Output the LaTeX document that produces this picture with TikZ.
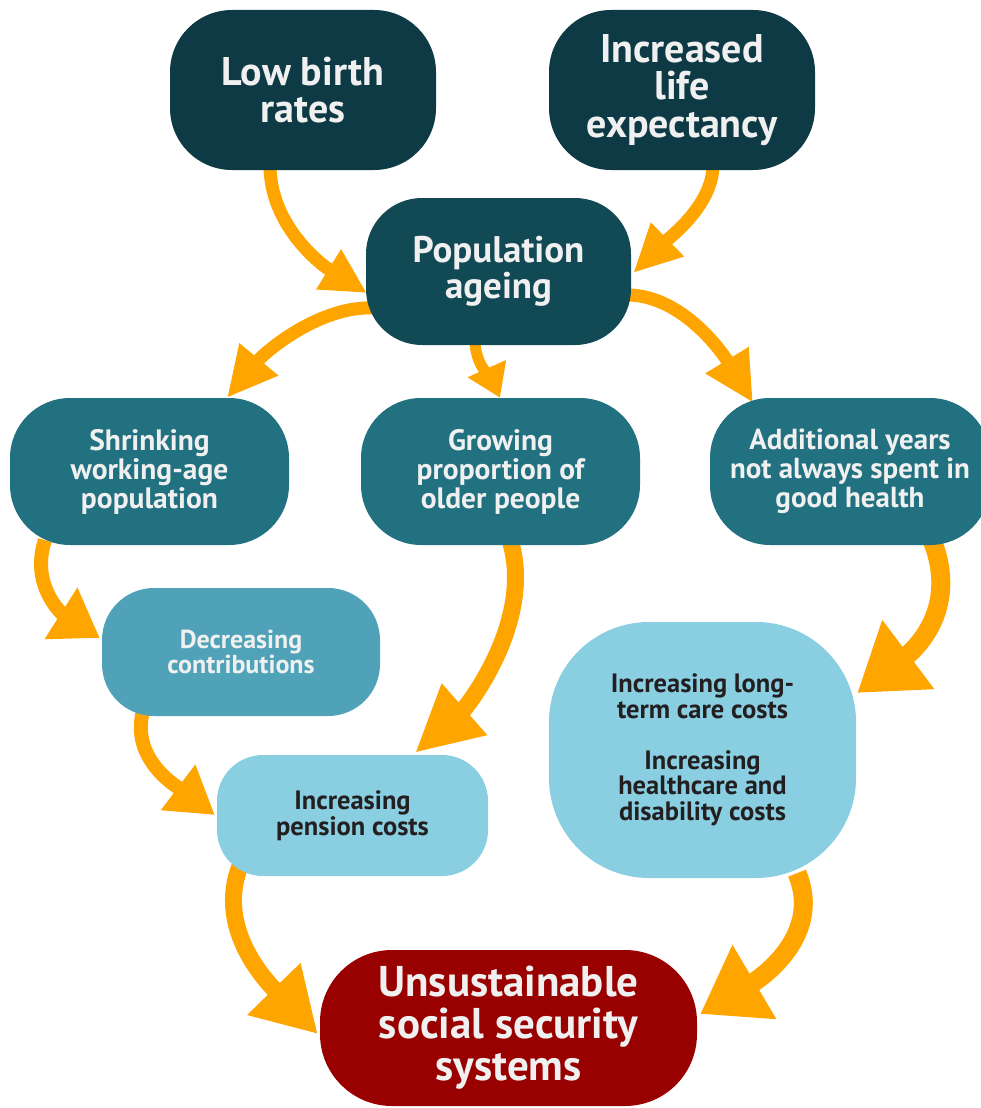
\documentclass[tikz,border=0pt]{standalone}
\usepackage{fontspec}
\setmainfont{PT Sans}
\usetikzlibrary{arrows.meta}
\pgfdeclarelayer{bg}
\pgfsetlayers{bg,main}
\definecolor{topcol}{HTML}{0D3A44}
\definecolor{pacol}{HTML}{114955}
\definecolor{midcol}{HTML}{217180}
\definecolor{deccol}{HTML}{4FA2B7}
\definecolor{lightcol}{HTML}{89CFE1}
\definecolor{redcol}{HTML}{990000}
\definecolor{orng}{HTML}{FFA500}
\definecolor{wtext}{HTML}{F0F0F0}
\definecolor{dtext}{HTML}{231F20}
\begin{document}
\begin{tikzpicture}[x=1pt,y=-1pt,
  box/.style={inner sep=0pt, align=center, font=\bfseries},
  ar/.style n args={3}{draw=orng, line width=#1, -{Triangle[width=#2,length=#3]}}]
\useasboundingbox (0,0) rectangle (980,1108);
% nodes
\node[box, fill=topcol, text=wtext, minimum width=266pt, minimum height=160pt, rounded corners=62pt,
  font=\bfseries\fontsize{40}{37.5}\selectfont] (lbr) at (303,90) {Low birth\\rates};
\node[box, fill=topcol, text=wtext, minimum width=266pt, minimum height=160pt, rounded corners=62pt,
  font=\bfseries\fontsize{40}{37.5}\selectfont] (ile) at (682,90) {Increased\\life\\expectancy};
\node[box, fill=pacol, text=wtext, minimum width=265pt, minimum height=147pt, rounded corners=56pt,
  font=\bfseries\fontsize{37}{36}\selectfont] (pa) at (498.5,271.5) {Population\\ageing};
\node[box, fill=midcol, text=wtext, minimum width=279pt, minimum height=147pt, rounded corners=60pt,
  font=\bfseries\fontsize{29.5}{29}\selectfont] (swa) at (149.5,471.5) {Shrinking\\working-age\\population};
\node[box, fill=midcol, text=wtext, minimum width=279pt, minimum height=147pt, rounded corners=60pt,
  font=\bfseries\fontsize{29.5}{29}\selectfont] (gpo) at (500.5,471.5) {Growing\\proportion of\\older people};
\node[box, fill=midcol, text=wtext, minimum width=280pt, minimum height=147pt, rounded corners=60pt,
  font=\bfseries\fontsize{29}{29}\selectfont] (ay) at (850,471.5) {Additional years\\not always spent in\\good health};
\node[box, fill=deccol, text=wtext, minimum width=278pt, minimum height=128pt, rounded corners=52pt,
  font=\bfseries\fontsize{26}{24.5}\selectfont] (dc) at (241,652) {Decreasing\\contributions};
\node[box, fill=lightcol, text=dtext, minimum width=271pt, minimum height=121pt, rounded corners=46pt,
  font=\bfseries\fontsize{26.5}{26}\selectfont] (ipc) at (352.5,815.5) {Increasing\\pension costs};
\node[box, fill=lightcol, text=dtext, minimum width=307pt, minimum height=256pt, rounded corners=100pt,
  font=\bfseries\fontsize{26.5}{25.5}\selectfont] (ltc) at (702.5,750) {Increasing long-\\term care costs\\[25.5pt]Increasing\\healthcare and\\disability costs};
\node[box, fill=redcol, text=wtext, minimum width=377pt, minimum height=156pt, rounded corners=72pt,
  font=\bfseries\fontsize{43}{42}\selectfont] (uss) at (508.5,1028) {Unsustainable\\social security\\systems};
% connectors
\begin{pgfonlayer}{bg}
\draw[ar={13pt}{44pt}{45pt}] ([shift={(-33,-5)}]lbr.south) .. controls (270,225) and (320,264) .. ([shift={(1,21.5)}]pa.west);
\draw[ar={13pt}{44pt}{48pt}] ([shift={(31,-5)}]ile.south) .. controls (713,205) and (669,238) .. ([shift={(2,1.5)}]pa.east);
\draw[ar={13pt}{47pt}{50pt}] ([shift={(9,36.5)}]pa.west) .. controls (320,305) and (265,352) .. ([shift={(77.5,0)}]swa.north);
\draw[ar={11pt}{40pt}{32pt}] ([shift={(-23.5,-5)}]pa.south) .. controls (475,365) and (492,380) .. ([shift={(-0.5,0)}]gpo.north);
\draw[ar={13pt}{47pt}{50pt}] ([shift={(-9,23.5)}]pa.east) .. controls (680,292) and (722,352) .. ([shift={(-97,5)}]ay.north);
\draw[ar={14pt}{58pt}{46pt}] ([shift={(-104.5,-5)}]swa.south) .. controls (30,585) and (62,614) .. ([shift={(-2,-14)}]dc.west);
\draw[ar={17pt}{64pt}{66pt}] ([shift={(9.5,-5)}]gpo.south) .. controls (535,620) and (467,707) .. ([shift={(62.5,-2)}]ipc.north);
\draw[ar={19pt}{82pt}{64pt}] ([shift={(82,-5)}]ay.south) .. controls (960,610) and (913,651) .. ([shift={(1,-57)}]ltc.east);
\draw[ar={14pt}{54pt}{46pt}] ([shift={(-98,-5)}]dc.south) .. controls (130,760) and (179,788) .. ([shift={(-2,-0.5)}]ipc.west);
\draw[ar={17pt}{70pt}{63pt}] ([shift={(-112.5,-10)}]ipc.south) .. controls (215,930) and (269,984) .. ([shift={(-2,6)}]uss.west);
\draw[ar={19pt}{82pt}{63pt}] ([shift={(94.5,-5)}]ltc.south) .. controls (825,940) and (751,984) .. ([shift={(3,-14)}]uss.east);
\end{pgfonlayer}
\end{tikzpicture}
\end{document}
